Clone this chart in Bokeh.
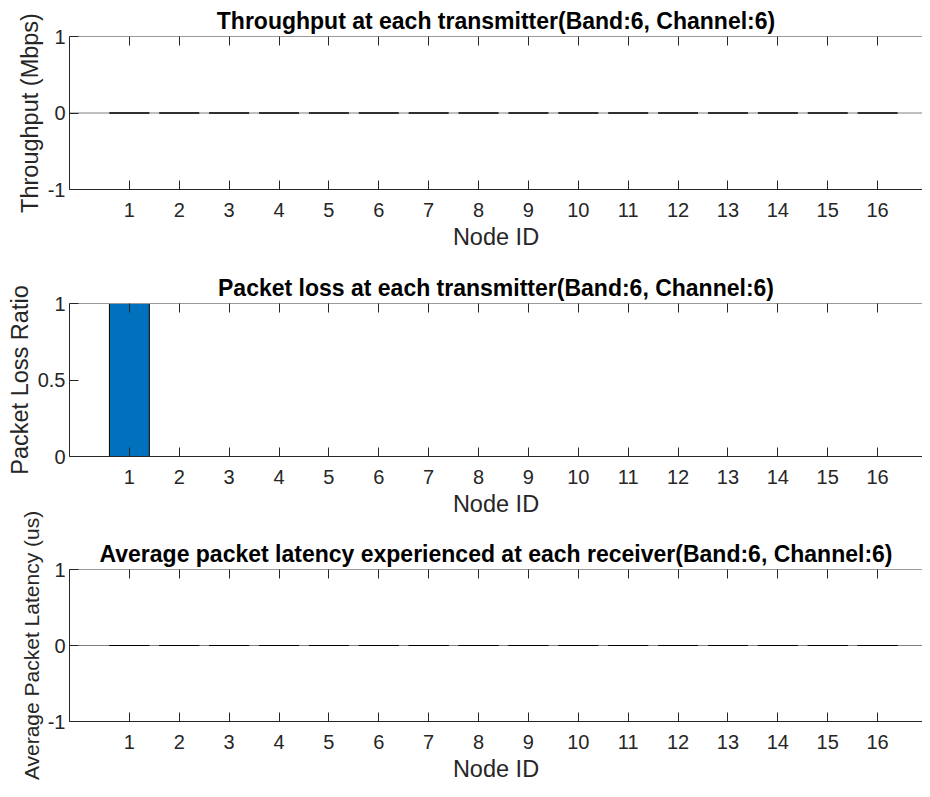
from bokeh.plotting import figure
from bokeh.models import LinearAxis, Range1d, FixedTicker, Span
from bokeh.layouts import column
from bokeh.embed import file_html
from bokeh.resources import INLINE

# ---- data ----
node_ids = [1, 2, 3, 4, 5, 6, 7, 8, 9, 10, 11, 12, 13, 14, 15, 16]
throughput_mbps = [0, 0, 0, 0, 0, 0, 0, 0, 0, 0, 0, 0, 0, 0, 0, 0]
packet_loss_ratio = [1, 0, 0, 0, 0, 0, 0, 0, 0, 0, 0, 0, 0, 0, 0, 0]
avg_latency_us = [0, 0, 0, 0, 0, 0, 0, 0, 0, 0, 0, 0, 0, 0, 0, 0]

x_label = "Node ID"
titles = [
    "Throughput at each transmitter(Band:6, Channel:6)",
    "Packet loss at each transmitter(Band:6, Channel:6)",
    "Average packet latency experienced at each receiver(Band:6, Channel:6)",
]
y_labels = ["Throughput (Mbps)", "Packet Loss Ratio", "Average Packet Latency (us)"]
y_ticks_sym = [-1, 0, 1]
y_tick_labels_sym = ["-1", "0", "1"]
y_ticks_loss = [0, 0.5, 1]
y_tick_labels_loss = ["0", "0.5", "1"]

FONT = "Liberation Sans"
AX = "#262626"
BAR = "#0072BD"


def panel(values, title, ylabel, yr, yticks, yticklabels, top_b, frame_h, bot_b,
          ylabel_size="23.5px"):
    p = figure(width=922, frame_width=853, frame_height=frame_h,
               x_range=Range1d(-0.2, 16.9), y_range=Range1d(*yr),
               output_backend="svg", toolbar_location=None,
               min_border_left=69, min_border_right=0,
               min_border_top=top_b, min_border_bottom=bot_b)
    p.outline_line_color = None
    p.grid.visible = False
    p.title.text = title
    p.title.align = "center"
    p.title.text_font = FONT
    p.title.text_font_size = "23px"
    p.title.text_font_style = "bold"
    p.title.text_color = "#000000"
    p.title.standoff = 6

    base = Span(location=0, dimension="width", line_color="#808080",
                line_width=1, level="underlay")
    p.add_layout(base)
    p.vbar(x=node_ids, top=values, bottom=0, width=0.8,
           fill_color=BAR, line_color="#000000", line_width=1)

    xa = p.xaxis[0]
    xa.ticker = FixedTicker(ticks=node_ids)
    xa.axis_label = x_label
    ya = p.yaxis[0]
    ya.ticker = FixedTicker(ticks=yticks)
    ya.major_label_overrides = {t: l for t, l in zip(yticks, yticklabels)}
    ya.axis_label = ylabel
    for a in (xa, ya):
        a.axis_line_color = AX
        a.major_tick_line_color = AX
        a.major_tick_in = 9
        a.major_tick_out = 0
        a.minor_tick_line_color = None
        a.major_label_text_font = FONT
        a.major_label_text_font_size = "20px"
        a.major_label_text_color = AX
        a.axis_label_text_font = FONT
        a.axis_label_text_font_size = "23.5px"
        a.axis_label_text_font_style = "normal"
        a.axis_label_text_color = AX
    ya.axis_label_text_font_size = ylabel_size
    xa.major_label_standoff = 13
    xa.axis_label_standoff = 4
    ya.major_label_standoff = 4
    ya.axis_label_standoff = 2

    # mirrored ticks along the top edge (box), no labels drawn
    top = LinearAxis(ticker=FixedTicker(ticks=node_ids),
                     major_label_text_font_size="0px",
                     major_label_text_color=None, major_label_standoff=0,
                     major_tick_in=9, major_tick_out=0,
                     axis_line_color="#9a9a9a", major_tick_line_color=AX,
                     minor_tick_line_color=None)
    p.add_layout(top, "above")
    return p


p1 = panel(throughput_mbps, titles[0], y_labels[0], (-1, 1), y_ticks_sym,
           y_tick_labels_sym, 36, 153, 66)
p2 = panel(packet_loss_ratio, titles[1], y_labels[1], (0, 1), y_ticks_loss,
           y_tick_labels_loss, 48, 153, 62)
p3 = panel(avg_latency_us, titles[2], y_labels[2], (-1, 1), y_ticks_sym,
           y_tick_labels_sym, 80, 152, 60, ylabel_size="21px")
p3.border_fill_alpha = 0
p3.background_fill_alpha = 0
p3.margin = (-30, 0, 0, 0)

layout = column(p1, p2, p3, spacing=0)
open("out.html", "w").write(file_html(layout, INLINE))
